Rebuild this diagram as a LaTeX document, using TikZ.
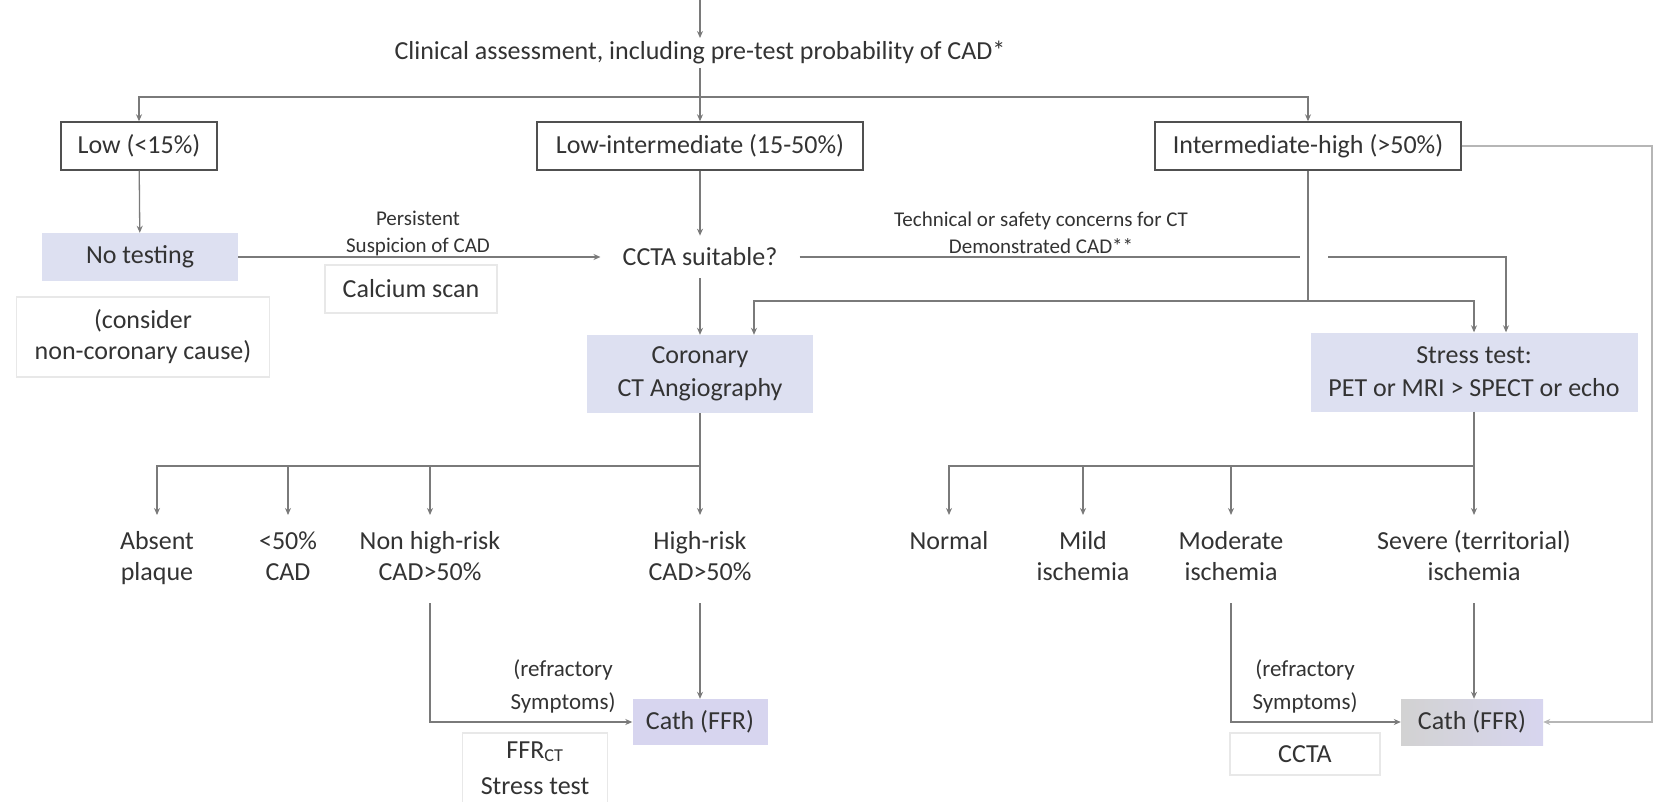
\documentclass[tikz,border=0pt]{standalone}
\usepackage{fontspec}
\setmainfont{Carlito}
\usetikzlibrary{arrows.meta}
\definecolor{txt}{HTML}{333333}
\definecolor{ln}{HTML}{7A7A7A}
\definecolor{bord}{HTML}{505050}
\definecolor{lav}{HTML}{DDE0F1}
\definecolor{cathc}{HTML}{D7D5EF}
\definecolor{cathg}{HTML}{D2D2D2}
\definecolor{faint}{HTML}{E8E8E8}
\begin{document}
\begin{tikzpicture}[x=1pt,y=-1pt,
  every node/.style={text=txt, font=\fontsize{26}{31}\selectfont},
  line/.style={draw=ln, line width=1.3pt},
  arr/.style={line, -{Stealth[length=7pt,width=6pt]}},
  probbox/.style={draw=bord, line width=1.4pt, minimum height=48pt, inner sep=0pt},
  testbox/.style={fill=lav, inner sep=0pt, align=center, font=\fontsize{26}{33}\selectfont},
  faintbox/.style={draw=faint, line width=1.2pt, inner sep=0pt, align=center},
  smalllbl/.style={font=\fontsize{21}{27}\selectfont, align=center},
  reflbl/.style={font=\fontsize{23}{33}\selectfont, align=center},
  outcome/.style={anchor=north, align=center, inner ysep=13pt, inner xsep=2pt},
  cathbox/.style={inner sep=0pt, minimum height=46pt},
]
\useasboundingbox (0,0) rectangle (1662,802);

% ---- nodes ----
\coordinate (top) at (700,0);
\node (clin) at (700,53) {Clinical assessment, including pre-test probability of CAD*};

\node[probbox, minimum width=156pt] (low) at (139,146) {Low (<15\%)};
\node[probbox, minimum width=326pt] (lowint) at (700,146) {Low-intermediate (15-50\%)};
\node[probbox, minimum width=306pt] (inthigh) at (1308,146) {Intermediate-high (>50\%)};

\node[testbox, minimum width=196pt, minimum height=48pt] (notest) at (140,257) {No testing};
\node[faintbox, minimum width=253pt, minimum height=80pt] (consider) at (143,337) {(consider\\non-coronary cause)};
\node[smalllbl] (persist) at (418,233) {Persistent\\Suspicion of CAD};
\node[faintbox, minimum width=172pt, minimum height=48pt] (calcium) at (411,289) {Calcium scan};
\node[inner xsep=22pt, inner ysep=12pt] (ccta) at (700,257) {CCTA suitable?};
\node[smalllbl] (tech) at (1041,233) {Technical or safety concerns for CT\\Demonstrated CAD**};

\node[testbox, minimum width=226pt, minimum height=78pt] (cor) at (700,374) {Coronary\\CT Angiography};
\node[testbox, minimum width=327pt, minimum height=79pt] (stress) at (1474,372) {Stress test:\\PET or MRI > SPECT or echo};

\node[outcome] (absent) at (157,515) {\strut Absent\\\strut plaque};
\node[outcome] (lt50) at (288,515) {\strut <50\%\\\strut CAD};
\node[outcome] (nonhigh) at (430,515) {\strut Non high-risk\\\strut CAD>50\%};
\node[outcome] (high) at (700,515) {\strut High-risk\\\strut CAD>50\%};
\node[outcome] (normal) at (949,515) {\strut Normal};
\node[outcome] (mild) at (1083,515) {\strut Mild\\\strut ischemia};
\node[outcome] (moderate) at (1231,515) {\strut Moderate\\\strut ischemia};
\node[outcome] (severe) at (1474,515) {\strut Severe (territorial)\\\strut ischemia};

\node[cathbox, fill=cathc, minimum width=135pt] (cath1) at (700,722) {Cath (FFR)};
\node[cathbox, left color=cathg, middle color=cathg!50!cathc, right color=cathc, minimum width=142pt] (cath2) at (1472,722) {Cath (FFR)};

\node[reflbl] (refl1) at (563,686) {(refractory\\Symptoms)};
\node[reflbl] (refl2) at (1305,686) {(refractory\\Symptoms)};
\node[faintbox, minimum width=145pt, minimum height=70pt, font=\fontsize{26}{36}\selectfont] (ffr) at (535,768) {FFR\textsubscript{CT}\\Stress test};
\node[faintbox, minimum width=150pt, minimum height=42pt] (ccta2) at (1305,754) {CCTA};

% ---- connectors ----
\draw[arr] (top) -- (clin.north);
\coordinate (b0) at (700,97);
\draw[line] (clin.south) -- (b0);
\draw[arr] (b0) -| (low.north);
\draw[arr] (b0) -- (lowint.north);
\draw[arr] (b0) -| (inthigh.north);

\draw[arr] (low) -- (notest);
\draw[arr] (notest) -- (ccta);
\draw[arr] (lowint) -- (ccta);
\draw[arr] (ccta) -- (cor);

\coordinate (hopA) at (1300,257);
\coordinate (hopB) at (1328,257);
\draw[line] (ccta.east) -- (hopA);
\draw[arr] (hopB) -| ([xshift=32pt]stress.north);

\coordinate (ih) at (1308,301);
\draw[line] (inthigh) -- (ih);
\draw[arr] (ih) -| ([xshift=54pt]cor.north);
\draw[arr] (ih) -| (stress.north);

\coordinate (cb) at (700,466);
\draw[line] (cor) -- (cb);
\draw[arr] (cb) -| (absent.north);
\draw[arr] (cb) -| (lt50.north);
\draw[arr] (cb) -| (nonhigh.north);
\draw[arr] (cb) -- (high.north);

\coordinate (sb) at (1474,466);
\draw[line] (stress) -- (sb);
\draw[arr] (sb) -| (normal.north);
\draw[arr] (sb) -| (mild.north);
\draw[arr] (sb) -| (moderate.north);
\draw[arr] (sb) -- (severe.north);

\draw[arr] (high) -- (cath1);
\draw[arr] (nonhigh) |- (cath1);
\draw[arr] (severe.south) -- (severe.south |- cath2.north);
\draw[arr] (moderate) |- (cath2);

\coordinate (rr) at (1652,146);
\draw[arr, draw=ln!55] (inthigh) -- (rr) |- (cath2);
\end{tikzpicture}
\end{document}
